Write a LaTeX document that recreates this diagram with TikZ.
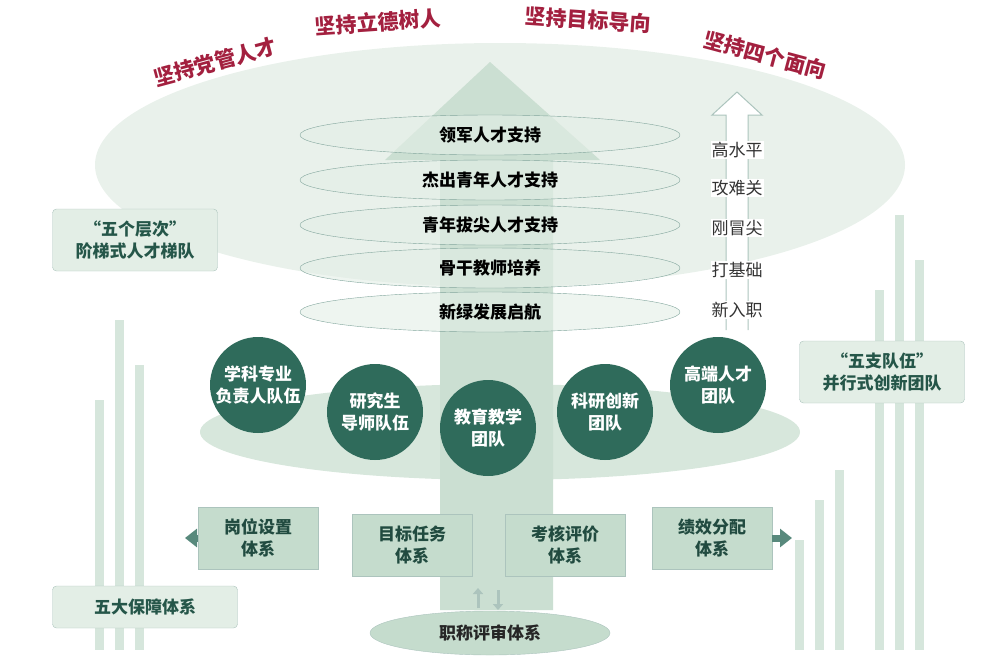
\documentclass[tikz,border=0pt]{standalone}
\usepackage{fontspec}
\setmainfont{Noto Sans CJK SC}
\usetikzlibrary{positioning, arrows.meta, shapes.geometric}
\definecolor{crimson}{HTML}{A3203F}
\definecolor{teal}{HTML}{2F6B5B}
\definecolor{pale}{HTML}{E3EEE6}
\definecolor{mid}{HTML}{C5DCCD}
\tikzset{
  layer/.style={ellipse, draw=teal!60, fill=pale, fill opacity=0.6, text opacity=1, minimum width=380, minimum height=40, font=\bfseries\fontsize{17}{20}\selectfont},
  team/.style={circle, fill=teal, text=white, minimum size=96, align=center, font=\bfseries\fontsize{17}{22}\selectfont, inner sep=0pt},
  sysbox/.style={rectangle, fill=mid, draw=teal!40, text=teal!70!black, minimum width=120, minimum height=62, align=center, font=\bfseries\fontsize{17}{22}\selectfont},
  sidebox/.style={rectangle, rounded corners=4pt, fill=pale, draw=teal!40, text=teal!80!black, align=center, font=\bfseries\fontsize{17}{22}\selectfont, minimum width=165, minimum height=62},
  motto/.style={text=crimson, font=\bfseries\fontsize{21}{24}\selectfont},
  level/.style={font=\fontsize{17}{20}\selectfont, text=black!80},
  bar/.style={fill=mid!70, draw=none}
}
\begin{document}
\begin{tikzpicture}[x=1pt, y=-1pt]
\useasboundingbox (0,0) rectangle (1001,657);
% decorative bars
\foreach \x/\t in {115/320, 135/365, 95/400, 835/470, 815/500, 795/540, 895/215, 915/260, 875/290}
  \fill[bar] (\x,\t) rectangle ++(9,650-\t);
% big disk and arrow
\fill[pale!80] (500,165) ellipse (405 and 122);
\fill[pale!60!mid] (500,432) ellipse (300 and 48);
\fill[mid!90] (385,160) -- (490,62) -- (600,160) -- (553,160) -- (553,610) -- (440,610) -- (440,160) -- cycle;
% layers
\node[layer] (l1) at (490,135) {领军人才支持};
\node[layer] (l2) at (490,180) {杰出青年人才支持};
\node[layer] (l3) at (490,225) {青年拔尖人才支持};
\node[layer] (l4) at (490,268) {骨干教师培养};
\node[layer] (l5) at (490,312) {新绿发展启航};
% right labels
\draw[draw=teal!40, fill=white, line width=1pt] (726,330) -- (726,115) -- (712,115) -- (737,92) -- (762,115) -- (748,115) -- (748,330);
\node[level, fill=white, inner sep=1pt] (v1) at (737,150) {高水平};
\node[level, fill=white, inner sep=1pt] (v2) at (737,188) {攻难关};
\node[level, fill=white, inner sep=1pt] (v3) at (737,228) {刚冒尖};
\node[level, fill=white, inner sep=1pt] (v4) at (737,270) {打基础};
\node[level, fill=white, inner sep=1pt] (v5) at (737,310) {新入职};
% mottos
\node[motto, rotate=15] (m1) at (215,62) {坚持党管人才};
\node[motto, rotate=4] (m2) at (378,22) {坚持立德树人};
\node[motto, rotate=-4] (m3) at (588,20) {坚持目标导向};
\node[motto, rotate=-15] (m4) at (765,55) {坚持四个面向};
% side boxes
\node[sidebox] (lev) at (135,240) {“五个层次”\\阶梯式人才梯队};
\node[sidebox] (tm) at (882,372) {“五支队伍”\\并行式创新团队};
\node[sidebox, minimum width=185, minimum height=42] (ens) at (145,607) {五大保障体系};
% teams
\node[team] (c1) at (258,385) {学科专业\\负责人队伍};
\node[team] (c2) at (375,412) {研究生\\导师队伍};
\node[team] (c3) at (488,428) {教育教学\\团队};
\node[team] (c4) at (605,412) {科研创新\\团队};
\node[team] (c5) at (718,385) {高端人才\\团队};
% systems
\node[sysbox] (s1) at (258,538) {岗位设置\\体系};
\node[sysbox] (s2) at (412,545) {目标任务\\体系};
\node[sysbox] (s3) at (565,545) {考核评价\\体系};
\node[sysbox] (s4) at (712,538) {绩效分配\\体系};
\coordinate (la) at (185,538);
\coordinate (ra) at (792,538);
\draw[-{Triangle[length=12pt,width=18pt]}, line width=7pt, teal!80] (s1.west) -- (la);
\draw[-{Triangle[length=12pt,width=18pt]}, line width=7pt, teal!80] (s4.east) -- (ra);
\node[ellipse, fill=mid, draw=teal!40, minimum width=240, minimum height=44, font=\bfseries\fontsize{17}{20}\selectfont, text=black!85] (ev) at (490,633) {职称评审体系};
\draw[-{Triangle[length=6pt,width=10pt]}, line width=3pt, teal!40] (478,608) -- (478,588);
\draw[-{Triangle[length=6pt,width=10pt]}, line width=3pt, teal!40] (498,590) -- (498,610);
\end{tikzpicture}
\end{document}
